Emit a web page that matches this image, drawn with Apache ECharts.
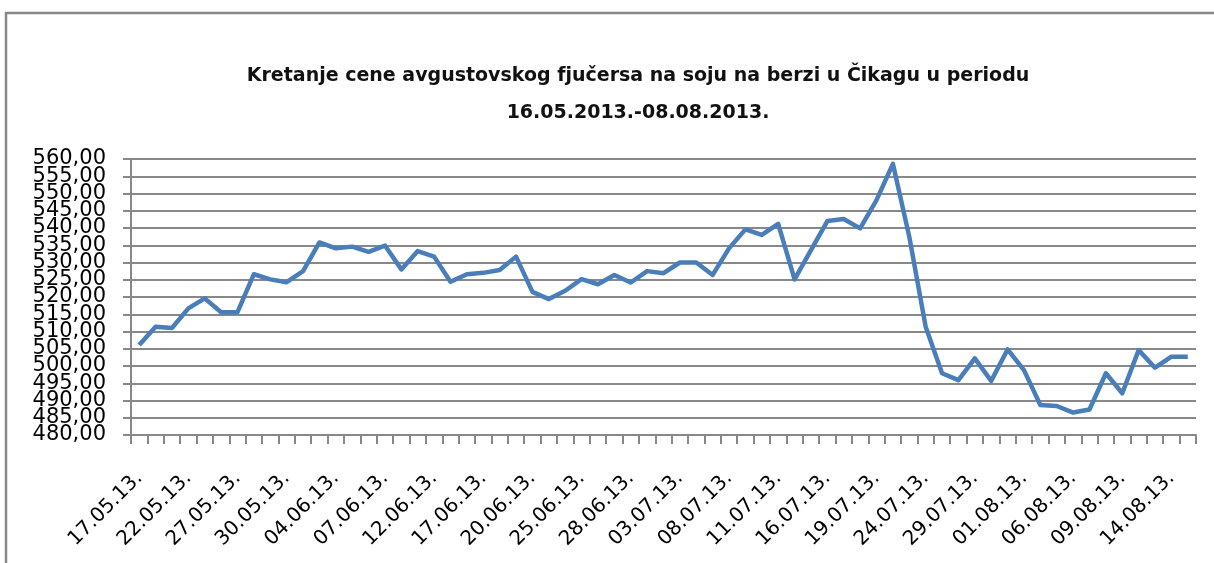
<!DOCTYPE html>
<html lang="sr">
<head>
    <meta charset="UTF-8">
    <title>Soja - avgustovski fjučers</title>
    <script src="https://cdn.jsdelivr.net/npm/echarts@6/dist/echarts.min.js"></script>
    <style>
        html, body { margin: 0; padding: 0; background: #fff; }
    </style>
</head>
<body>
<div id="main" style="width: 1214px;height:563px;"></div>
<script>
    // datumi trgovanja (svaki treci je ispisan na osi)
    var dates = [
        '17.05.13.', '20.05.13.', '21.05.13.', '22.05.13.', '23.05.13.', '24.05.13.', '27.05.13.', '28.05.13.', '29.05.13.', '30.05.13.', '31.05.13.',
        '03.06.13.', '04.06.13.', '05.06.13.', '06.06.13.', '07.06.13.', '10.06.13.', '11.06.13.', '12.06.13.', '13.06.13.', '14.06.13.',
        '17.06.13.', '18.06.13.', '19.06.13.', '20.06.13.', '21.06.13.', '24.06.13.', '25.06.13.', '26.06.13.', '27.06.13.', '28.06.13.',
        '01.07.13.', '02.07.13.', '03.07.13.', '04.07.13.', '05.07.13.', '08.07.13.', '09.07.13.', '10.07.13.', '11.07.13.', '12.07.13.',
        '15.07.13.', '16.07.13.', '17.07.13.', '18.07.13.', '19.07.13.', '22.07.13.', '23.07.13.', '24.07.13.', '25.07.13.', '26.07.13.',
        '29.07.13.', '30.07.13.', '31.07.13.', '01.08.13.', '02.08.13.', '05.08.13.', '06.08.13.', '07.08.13.', '08.08.13.', '09.08.13.',
        '12.08.13.', '13.08.13.', '14.08.13.', '15.08.13.'
    ];
    // cena (ocitano sa grafika)
    var prices = [
        506.1, 511.4, 511.0, 516.7, 519.6, 515.6, 515.6, 526.6, 525.1, 524.3, 527.5,
        535.8, 534.1, 534.6, 533.1, 534.9, 528.0, 533.3, 531.7, 524.4, 526.6,
        527.0, 527.8, 531.7, 521.5, 519.4, 521.8, 525.2, 523.7, 526.4, 524.2,
        527.5, 526.9, 530.0, 530.0, 526.4, 534.1, 539.6, 538.0, 541.2, 525.1,
        533.6, 542.0, 542.6, 539.9, 548.1, 558.6, 537.5, 511.4, 497.9, 495.9,
        502.2, 495.7, 504.8, 498.8, 488.7, 488.4, 486.5, 487.4, 497.9, 492.1,
        504.6, 499.5, 502.7, 502.7
    ];
    var yMin = 480, yMax = 560, yStep = 5;

    function fmt(v) { return v.toFixed(2).replace('.', ','); }
    // oznake se preklapaju kao u originalu, pa ih delimo na dve ose (parne/neparne)
    var labelStyle = {
        margin: 25,
        color: '#000',
        fontFamily: 'DejaVu Sans',
        fontSize: 21,
        hideOverlap: false
    };

    var myChart = echarts.init(document.getElementById('main'));
    var option = {
        backgroundColor: '#ffffff',
        animation: false,
        title: {
            text: 'Kretanje cene avgustovskog fjučersa na soju na berzi u Čikagu u periodu\n16.05.2013.-08.08.2013.',
            left: 633,
            textAlign: 'center',
            top: 53,
            textStyle: {
                fontFamily: 'DejaVu Sans',
                fontWeight: 'bold',
                fontSize: 19,
                lineHeight: 37,
                color: '#111'
            }
        },
        graphic: [{
            type: 'rect',
            shape: { x: 6, y: 13, width: 1400, height: 800 },
            style: { fill: null, stroke: '#888888', lineWidth: 2.5 },
            silent: true
        }],
        grid: { left: 131, right: 18, top: 159, bottom: 128, containLabel: false },
        xAxis: {
            type: 'category',
            data: dates,
            boundaryGap: true,
            axisLine: { lineStyle: { color: '#888888', width: 2 } },
            axisTick: { show: true, interval: 0, length: 9, lineStyle: { color: '#888888', width: 2 } },
            axisLabel: {
                interval: 2,
                rotate: 45,
                margin: 40,
                color: '#000',
                fontFamily: 'DejaVu Sans',
                fontSize: 20
            }
        },
        yAxis: [{
            type: 'value',
            min: yMin,
            max: yMax,
            interval: yStep,
            axisLine: { show: true, lineStyle: { color: '#888888', width: 2 } },
            axisTick: { show: true, length: 8, lineStyle: { color: '#888888', width: 2 } },
            splitLine: { show: true, lineStyle: { color: '#888888', width: 2 } },
            axisLabel: Object.assign({}, labelStyle, {
                showMinLabel: true,
                showMaxLabel: true,
                formatter: function (v) { return (v - yMin) % 10 === 0 ? fmt(v) : ''; }
            })
        }, {
            type: 'value',
            position: 'left',
            min: yMin,
            max: yMax,
            interval: yStep,
            axisLine: { show: false },
            axisTick: { show: false },
            splitLine: { show: false },
            axisLabel: Object.assign({}, labelStyle, {
                showMinLabel: false,
                showMaxLabel: false,
                formatter: function (v) { return (v - yMin) % 10 === 0 ? '' : fmt(v); }
            })
        }],
        series: [{
            type: 'line',
            data: prices,
            showSymbol: false,
            symbol: 'none',
            lineStyle: { color: '#4a7ebb', width: 4.5, join: 'round' }
        }]
    };
    myChart.setOption(option);
</script>
</body>
</html>
